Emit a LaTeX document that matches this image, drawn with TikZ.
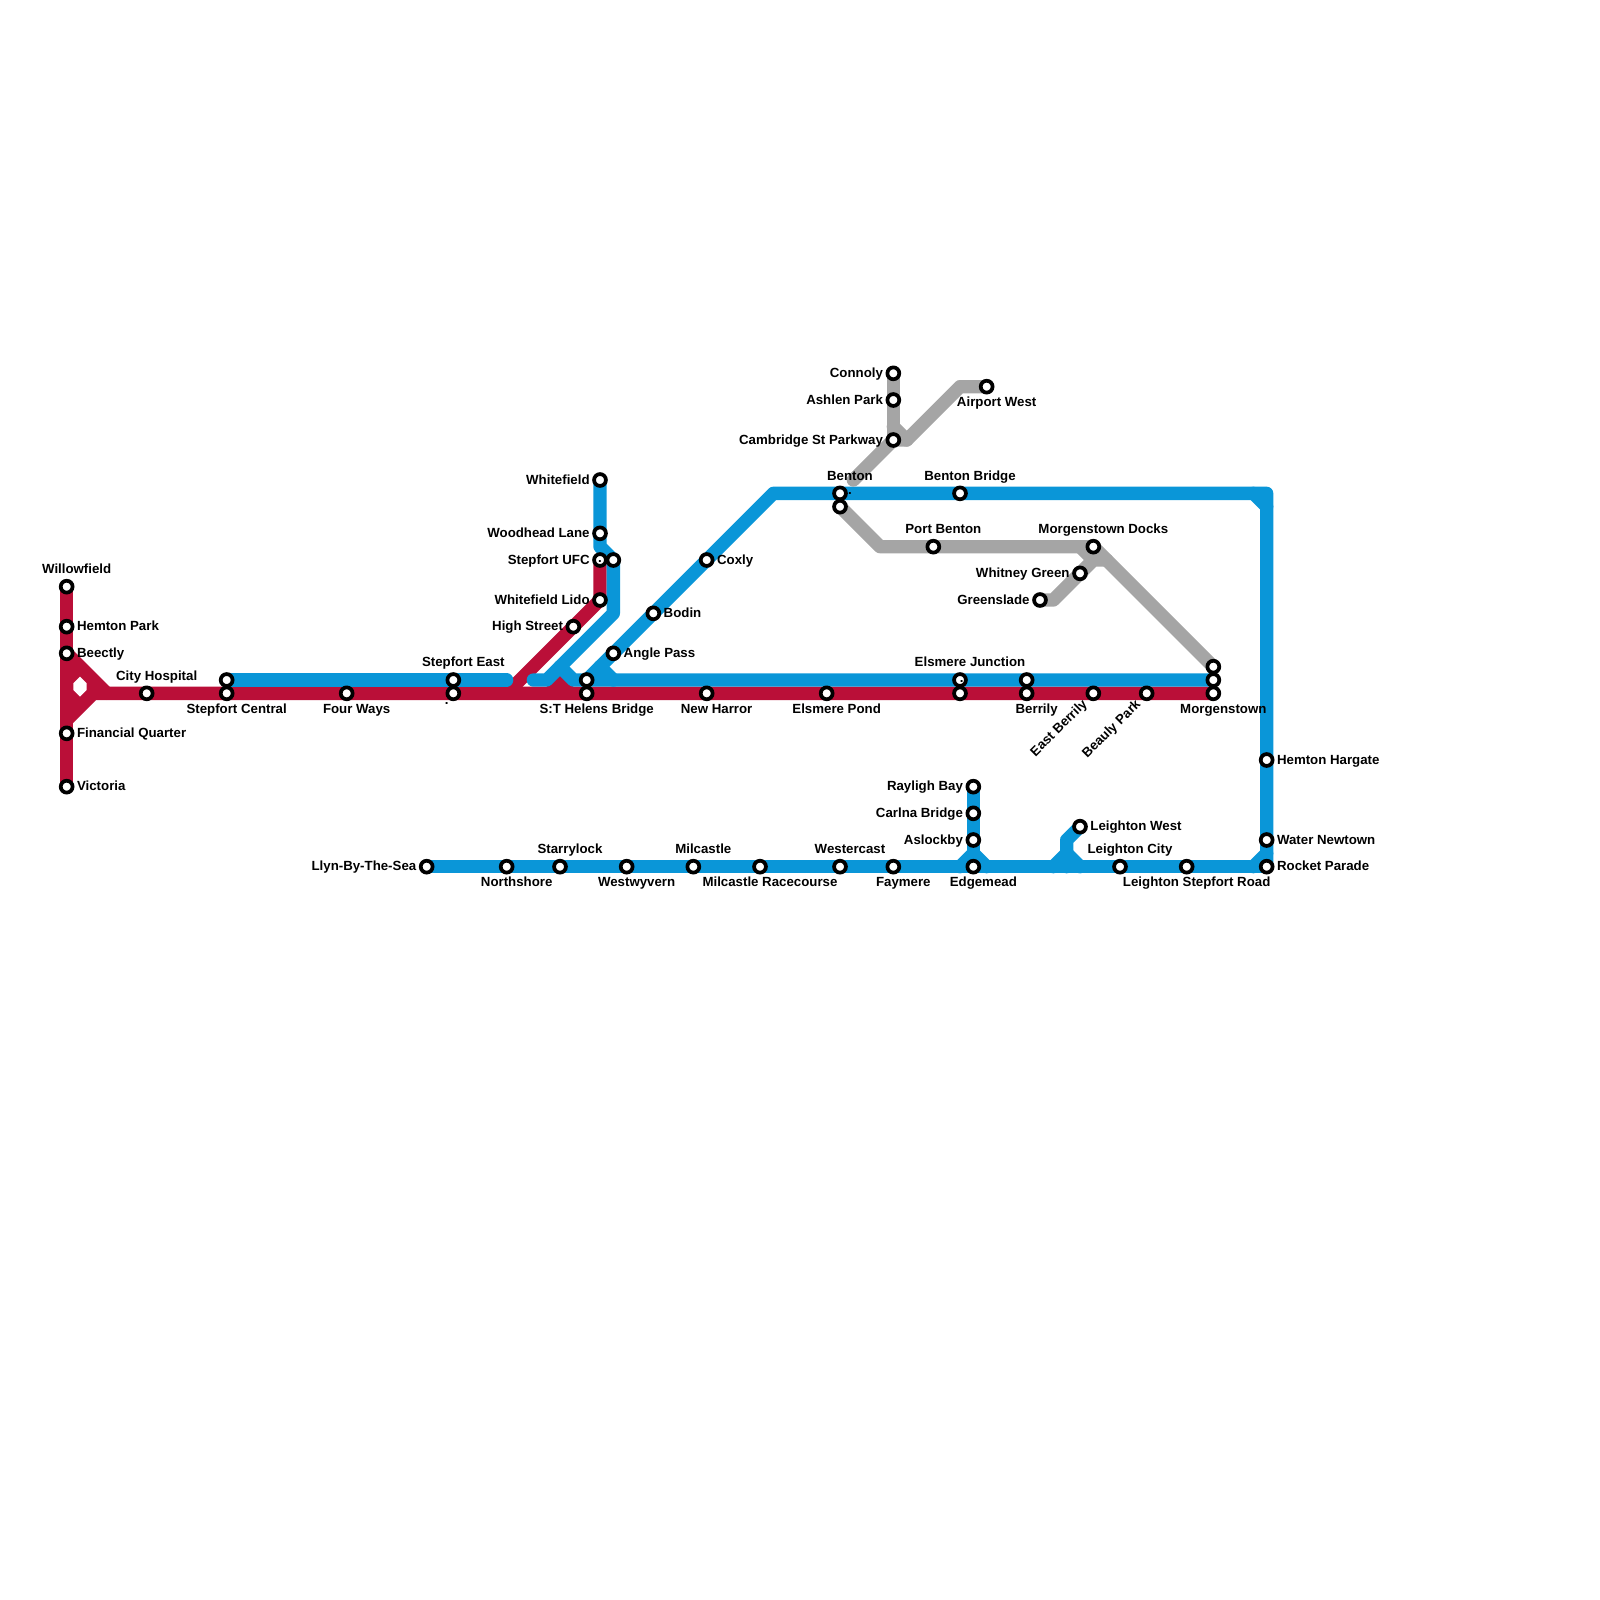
\documentclass[tikz,border=0pt]{standalone}
\usepackage{fontspec}
\setmainfont{Liberation Sans}
\pgfdeclarelayer{lines}
\pgfsetlayers{lines,main}
\definecolor{metroblue}{HTML}{0A96D8}
\definecolor{metrored}{HTML}{BA0F38}
\definecolor{metrogrey}{HTML}{A5A5A5}
\tikzset{
  stn/.style={circle,draw=black,fill=white,line width=2.8pt,minimum size=8.9pt,inner sep=0pt},
  blueline/.style={draw=metroblue,line width=10pt,line cap=round,line join=round},
  redline/.style={draw=metrored,line width=10pt,line cap=round,line join=round},
  greyline/.style={draw=metrogrey,line width=10pt,line cap=round,line join=round},
  lab/.style={font=\bfseries\fontsize{9.95}{11}\selectfont,inner sep=0pt,text=black},
  lE/.style={lab,anchor=base west,xshift=7.6pt,yshift=-3pt},
  lW/.style={lab,anchor=base east,xshift=-7.6pt,yshift=-3pt},
  lN/.style={lab,anchor=base,xshift=7.5pt,yshift=10pt},
  lS/.style={lab,anchor=base,xshift=7.5pt,yshift=-15pt},
  lR/.style={lab,anchor=base east,xshift=-4pt,yshift=-8.6pt,rotate=45},
}
\newcommand\stn[3]{\node[stn] (#1) at (#2,#3) {};}
\newcommand\lbl[4]{\node[#3] (t#1) at (#2) {#4};}
\begin{document}
\begin{tikzpicture}[x=10pt,y=-10pt]
\useasboundingbox (0,0) rectangle (120,120);
% stations
\stn{willow}{5}{44}\stn{hemton}{5}{47}\stn{beectly}{5}{49}\stn{finq}{5}{55}\stn{victoria}{5}{59}
\stn{cityh}{11}{52}\stn{stepB}{17}{51}\stn{stepC}{17}{52}\stn{four}{26}{52}\stn{stepE}{34}{51}\stn{stepEb}{34}{52}
\stn{whitef}{45}{36}\stn{wood}{45}{40}\stn{ufc}{45}{42}\stn{ufcb}{46}{42}\stn{lido}{45}{45}\stn{high}{43}{47}
\stn{angle}{46}{49}\stn{bodin}{49}{46}\stn{coxly}{53}{42}\stn{helB}{44}{51}\stn{helR}{44}{52}
\stn{harror}{53}{52}\stn{pond}{62}{52}\stn{elsB}{72}{51}\stn{elsR}{72}{52}\stn{berB}{77}{51}\stn{berR}{77}{52}
\stn{eberr}{82}{52}\stn{beauly}{86}{52}\stn{morG}{91}{50}\stn{morB}{91}{51}\stn{morR}{91}{52}
\stn{bent}{63}{37}\stn{bentg}{63}{38}\stn{bbridge}{72}{37}\stn{portb}{70}{41}\stn{docks}{82}{41}
\stn{whitney}{81}{43}\stn{green}{78}{45}\stn{conn}{67}{28}\stn{ashlen}{67}{30}\stn{camb}{67}{33}\stn{airport}{74}{29}
\stn{hhar}{95}{57}\stn{water}{95}{63}\stn{rocket}{95}{65}
\stn{llyn}{32}{65}\stn{north}{38}{65}\stn{starry}{42}{65}\stn{westw}{47}{65}\stn{milc}{52}{65}\stn{race}{57}{65}
\stn{westc}{63}{65}\stn{fay}{67}{65}\stn{edgem}{73}{65}\stn{ray}{73}{59}\stn{carl}{73}{61}\stn{asl}{73}{63}
\stn{lwest}{81}{62}\stn{lcity}{84}{65}\stn{lstep}{89}{65}
% bends
\coordinate (j1) at (8,52);\coordinate (j2) at (5,54);\coordinate (j3) at (7,52);\coordinate (r1) at (38,52);
\coordinate (bA) at (38,51);\coordinate (bB) at (40,51);\coordinate (bC) at (41,51);\coordinate (bD) at (46,46);
\coordinate (bE) at (45,41);\coordinate (bF) at (42,50);\coordinate (bG) at (43,51);\coordinate (bH) at (58,37);
\coordinate (bI) at (95,37);\coordinate (bJ) at (94,37);\coordinate (bK) at (95,38);\coordinate (bL) at (45,50);
\coordinate (bM) at (46,51);\coordinate (bN) at (95,64);\coordinate (bO) at (94,65);\coordinate (bP) at (73,64);
\coordinate (bQ) at (72,65);\coordinate (bR) at (74,65);\coordinate (bS) at (80,63);\coordinate (bT) at (80,65);
\coordinate (bU) at (80,64);\coordinate (bV) at (79,65);\coordinate (bW) at (81,65);
\coordinate (g1) at (66,41);\coordinate (g2) at (79,45);\coordinate (g3) at (82,42);\coordinate (g4) at (83,42);
\coordinate (g5) at (81,41);\coordinate (g6) at (64,36);\coordinate (g7) at (68,33);\coordinate (g8) at (72,29);
\coordinate (g9) at (67,32);
\begin{pgfonlayer}{lines}
% red
\fill[metrored] (beectly.center) -- (j1) -- (j3) -- (j2) -- cycle;
\draw[redline] (willow.center) -- (victoria.center);
\draw[redline] (beectly.center) -- (j1);
\draw[redline] (j2) -- (j3) -- (morR.center);
\draw[redline] (r1) -- (lido.center) -- (ufc.center);
\fill[metrored] (40.5,52) -- (42,50.5) -- (43.5,52) -- cycle;
\fill[white] (5.5,51.25) -- (6,50.75) -- (6.5,51.25) -- (6.5,51.75) -- (6,52.25) -- (5.5,51.75) -- cycle;
% blue
\draw[blueline] (stepB.center) -- (bA);
\draw[blueline] (bB) -- (bC) -- (bD) -- (ufcb.center) -- (bE) -- (whitef.center);
\draw[blueline] (bF) -- (bG) -- (morB.center);
\draw[blueline] (helB.center) -- (bH) -- (bI) -- (rocket.center);
\draw[blueline] (bJ) -- (bK);
\draw[blueline] (bL) -- (bM);
\draw[blueline] (llyn.center) -- (rocket.center);
\draw[blueline] (bN) -- (bO);
\draw[blueline] (ray.center) -- (edgem.center);
\draw[blueline] (bQ) -- (bP) -- (bR);
\draw[blueline] (lwest.center) -- (bS) -- (bT);
\draw[blueline] (bV) -- (bU) -- (bW);
% grey
\draw[greyline] (bentg.center) -- (g1) -- (docks.center) -- (morG.center);
\draw[greyline] (green.center) -- (g2) -- (g3) -- (g4);
\draw[greyline] (g5) -- (g3);
\draw[greyline] (conn.center) -- (camb.center);
\draw[greyline] (g6) -- (camb.center) -- (g7) -- (g8) -- (airport.center);
\draw[greyline] (g9) -- (g7);
\end{pgfonlayer}
% labels
\lbl{willow}{willow}{lN}{Willowfield}
\lbl{hemton}{hemton}{lE}{Hemton Park}
\lbl{beectly}{beectly}{lE}{Beectly}
\lbl{finq}{finq}{lE}{Financial Quarter}
\lbl{victoria}{victoria}{lE}{Victoria}
\lbl{cityh}{cityh}{lN}{City Hospital}
\lbl{stepC}{stepC}{lS}{Stepfort Central}
\lbl{four}{four}{lS}{Four Ways}
\lbl{stepE}{stepE}{lN}{Stepfort East}
\lbl{whitef}{whitef}{lW}{Whitefield}
\lbl{wood}{wood}{lW}{Woodhead Lane}
\lbl{ufc}{ufc}{lW}{Stepfort UFC}
\lbl{lido}{lido}{lW}{Whitefield Lido}
\lbl{high}{high}{lW}{High Street}
\lbl{angle}{angle}{lE}{Angle Pass}
\lbl{bodin}{bodin}{lE}{Bodin}
\lbl{coxly}{coxly}{lE}{Coxly}
\lbl{helR}{helR}{lS}{S:T Helens Bridge}
\lbl{harror}{harror}{lS}{New Harror}
\lbl{pond}{pond}{lS}{Elsmere Pond}
\lbl{elsB}{elsB}{lN}{Elsmere Junction}
\lbl{berR}{berR}{lS}{Berrily}
\lbl{eberr}{eberr}{lR}{East Berrily}
\lbl{beauly}{beauly}{lR}{Beauly Park}
\lbl{morR}{morR}{lS}{Morgenstown}
\lbl{bent}{bent}{lN}{Benton}
\lbl{bbridge}{bbridge}{lN}{Benton Bridge}
\lbl{portb}{portb}{lN}{Port Benton}
\lbl{docks}{docks}{lN}{Morgenstown Docks}
\lbl{whitney}{whitney}{lW}{Whitney Green}
\lbl{green}{green}{lW}{Greenslade}
\lbl{conn}{conn}{lW}{Connoly}
\lbl{ashlen}{ashlen}{lW}{Ashlen Park}
\lbl{camb}{camb}{lW}{Cambridge St Parkway}
\lbl{airport}{airport}{lS}{Airport West}
\lbl{hhar}{hhar}{lE}{Hemton Hargate}
\lbl{water}{water}{lE}{Water Newtown}
\lbl{rocket}{rocket}{lE}{Rocket Parade}
\lbl{llyn}{llyn}{lW}{Llyn-By-The-Sea}
\lbl{north}{north}{lS}{Northshore}
\lbl{starry}{starry}{lN}{Starrylock}
\lbl{westw}{westw}{lS}{Westwyvern}
\lbl{milc}{milc}{lN}{Milcastle}
\lbl{race}{race}{lS}{Milcastle Racecourse}
\lbl{westc}{westc}{lN}{Westercast}
\lbl{fay}{fay}{lS}{Faymere}
\lbl{edgem}{edgem}{lS}{Edgemead}
\lbl{ray}{ray}{lW}{Rayligh Bay}
\lbl{carl}{carl}{lW}{Carlna Bridge}
\lbl{asl}{asl}{lW}{Aslockby}
\lbl{lwest}{lwest}{lE}{Leighton West}
\lbl{lcity}{lcity}{lN}{Leighton City}
\lbl{lstep}{lstep}{lS}{Leighton Stepfort Road}
% stray dots
\node[lab,anchor=base,xshift=-5pt,yshift=-8pt] (dA) at (stepEb) {.};
\node[lab,anchor=base,xshift=7.5pt,yshift=-1pt] (dB) at (bent) {.};
\node[lab,anchor=base,xshift=1.2pt,yshift=-1.5pt] (dC) at (elsB) {.};
\node[lab,anchor=base,xshift=0pt,yshift=-1.5pt] (dD) at (ufc) {.};
\end{tikzpicture}
\end{document}
